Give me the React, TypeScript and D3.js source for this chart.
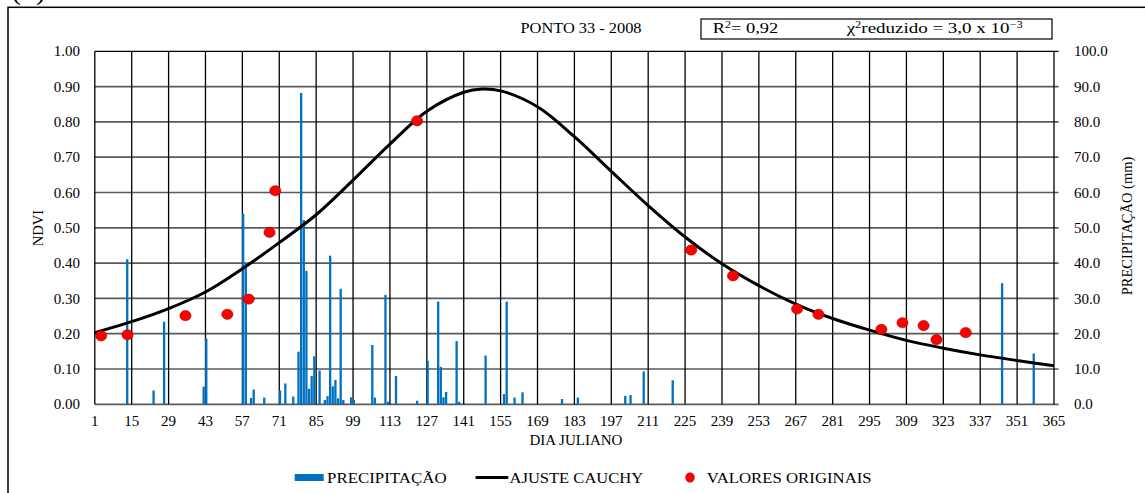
import React from 'react';
import * as d3 from 'd3';

// ---------- data ----------
const dayTicks = [1, 15, 29, 43, 57, 71, 85, 99, 113, 127, 141, 155, 169, 183, 197, 211, 225, 239, 253, 267, 281, 295, 309, 323, 337, 351, 365];
const ndviTicks = [0, 0.1, 0.2, 0.3, 0.4, 0.5, 0.6, 0.7, 0.8, 0.9, 1.0];
const precipTicks = [0, 10, 20, 30, 40, 50, 60, 70, 80, 90, 100];

const precipDays = [13, 23, 27, 42, 43, 57, 58, 60, 61, 65, 71, 73, 76, 78, 79, 80, 81, 82, 83, 84, 86, 88, 89, 90, 91, 92, 93, 94, 95, 98, 99, 106, 107, 111, 112, 115, 123, 127, 131, 132, 133, 134, 138, 139, 149, 156, 157, 160, 163, 178, 184, 202, 204, 209, 220, 345, 357];
const precipMm = [41.1, 3.9, 23.4, 5.0, 18.6, 54.0, 40.0, 1.8, 4.2, 1.9, 3.9, 5.9, 2.2, 14.9, 88.2, 52.2, 37.8, 4.4, 8.0, 13.6, 9.6, 1.2, 2.3, 42.1, 5.1, 6.9, 1.7, 32.7, 1.2, 2.0, 1.2, 16.8, 1.9, 31.0, 0.7, 8.0, 1.0, 12.3, 29.1, 10.6, 2.0, 3.5, 17.9, 0.7, 13.8, 2.9, 29.1, 1.9, 3.4, 1.5, 1.9, 2.4, 2.6, 9.3, 6.8, 34.3, 14.4];

const fitDays = [1, 15, 29, 43, 57, 71, 85, 99, 113, 127, 141, 148, 155, 169, 183, 197, 211, 225, 239, 253, 267, 281, 295, 309, 323, 337, 351, 365];
const fitNdvi = [0.203, 0.234, 0.271, 0.318, 0.384, 0.458, 0.537, 0.635, 0.737, 0.830, 0.884, 0.893, 0.888, 0.843, 0.758, 0.660, 0.563, 0.474, 0.398, 0.336, 0.284, 0.243, 0.210, 0.181, 0.159, 0.140, 0.124, 0.109];

const obsDays = [3.4, 13.4, 35.4, 51.3, 59.4, 67.3, 69.5, 123.3, 227.3, 243.2, 267.5, 275.6, 299.5, 307.5, 315.5, 320.4, 331.5];
const obsNdvi = [0.194, 0.197, 0.251, 0.255, 0.298, 0.487, 0.605, 0.803, 0.437, 0.364, 0.270, 0.255, 0.212, 0.231, 0.223, 0.183, 0.203];

const legendLabels = ['PRECIPITAÇÃO', 'AJUSTE CAUCHY', 'VALORES ORIGINAIS'];

// ---------- layout ----------
const W = 1145;
const H = 493;
const x = d3.scaleLinear().domain([1, 365]).range([94.8, 1054]);
const yL = d3.scaleLinear().domain([0, 1]).range([404.3, 51.3]);
const yR = d3.scaleLinear().domain([0, 100]).range([404.3, 51.3]);

const SERIF = "'Liberation Serif', 'Times New Roman', serif";
const BLUE = '#0070C0';
const T = (fs: number): React.CSSProperties => ({ fontFamily: SERIF, fontSize: fs + 'px' });

export default function App() {
  const line = d3
    .line<number>()
    .x((_, i) => x(fitDays[i]))
    .y((d) => yL(d))
    .curve(d3.curveCatmullRom.alpha(0.5));
  const bw = 2.3;

  return (
    <svg width={W} height={H} style={{ position: 'absolute', left: 0, top: 0, background: '#fff', fontFamily: SERIF }}>
      <rect x={0} y={0} width={W} height={H} fill="#fff" />
      {/* outer frame */}
      <rect x={8} y={7.3} width={1300} height={700} fill="none" stroke="#000" strokeWidth={1.5} />
      <text x={11} y={-1} style={T(30)} fill="#000">(b)</text>

      {/* title and stats box */}
      <text x={520.5} y={33} style={T(14.5)} textLength={121} lengthAdjust="spacingAndGlyphs">PONTO 33 - 2008</text>
      <rect x={701} y={19} width={351} height={20} fill="#fff" stroke="#000" strokeWidth={1.2} />
      <text x={712.7} y={33.3} style={T(14.5)} textLength={65.6} lengthAdjust="spacingAndGlyphs">
        R<tspan style={T(9.5)} dy={-5.5}>2</tspan><tspan style={T(14.5)} dy={5.5}>= 0,92</tspan>
      </text>
      <text x={846.7} y={33.3} style={T(14.5)} textLength={176} lengthAdjust="spacingAndGlyphs">
        χ<tspan style={T(9.5)} dy={-5.5}>2</tspan><tspan style={T(14.5)} dy={5.5}>reduzido = 3,0 x 10</tspan><tspan style={T(9.5)} dy={-5.5}>−3</tspan>
      </text>

      {/* horizontal grid */}
      {ndviTicks.map((t) => (
        <line key={'h' + t} x1={x(1)} x2={x(365) + 4.5} y1={yL(t)} y2={yL(t)} stroke={t === 1 ? '#000' : '#5a5a5a'} strokeWidth={t === 1 ? 1.3 : 1.7} />
      ))}
      {/* vertical grid */}
      {dayTicks.map((d) => (
        <line key={'v' + d} x1={x(d)} x2={x(d)} y1={yL(1)} y2={yL(0)} stroke="#000" strokeWidth={1.3} />
      ))}

      {/* precipitation bars */}
      {precipDays.map((d, i) => (
        <rect key={'b' + d} x={x(d) - bw / 2 + 0.8} y={yR(precipMm[i])} width={bw} height={yR(0) - yR(precipMm[i])} fill={BLUE} />
      ))}

      {/* fitted curve */}
      <path d={line(fitNdvi) || ''} fill="none" stroke="#000" strokeWidth={3} strokeLinejoin="round" />

      {/* observed values */}
      {obsDays.map((d, i) => (
        <ellipse key={'o' + i} cx={x(d)} cy={yL(obsNdvi[i])} rx={5.6} ry={5.1} fill="#FF0000" stroke="#A00000" strokeWidth={0.6} />
      ))}

      {/* left axis labels */}
      {ndviTicks.map((t) => (
        <text key={'l' + t} x={80} y={yL(t)} dy="0.34em" style={T(15)} textAnchor="end">{t.toFixed(2)}</text>
      ))}
      {/* right axis labels */}
      {precipTicks.map((t) => (
        <text key={'r' + t} x={1074} y={yR(t)} dy="0.34em" style={T(15)} textAnchor="start">{t.toFixed(1)}</text>
      ))}
      {/* bottom labels */}
      {dayTicks.map((d) => (
        <text key={'x' + d} x={x(d)} y={426} style={T(15)} textAnchor="middle">{d}</text>
      ))}

      {/* axis titles */}
      <text x={576} y={445} style={T(15)} textAnchor="middle">DIA JULIANO</text>
      <text transform="translate(43,228) rotate(-90)" style={T(14.5)} textAnchor="middle">NDVI</text>
      <text transform="translate(1132,226) rotate(-90)" style={T(14.5)} textAnchor="middle">PRECIPITAÇÃO (mm)</text>

      {/* legend */}
      <rect x={294.7} y={474} width={29} height={7} fill={BLUE} />
      <text x={327} y={482.6} style={T(15.5)} textLength={119.6} lengthAdjust="spacingAndGlyphs">{legendLabels[0]}</text>
      <line x1={475.6} x2={508.3} y1={477.5} y2={477.5} stroke="#000" strokeWidth={3} />
      <text x={509.5} y={482.6} style={T(15.5)} textLength={133.7} lengthAdjust="spacingAndGlyphs">{legendLabels[1]}</text>
      <ellipse cx={690} cy={477.5} rx={4.4} ry={4.8} fill="#FF0000" stroke="#A00000" strokeWidth={0.5} />
      <text x={706.7} y={482.6} style={T(15.5)} textLength={165} lengthAdjust="spacingAndGlyphs">{legendLabels[2]}</text>
    </svg>
  );
}
